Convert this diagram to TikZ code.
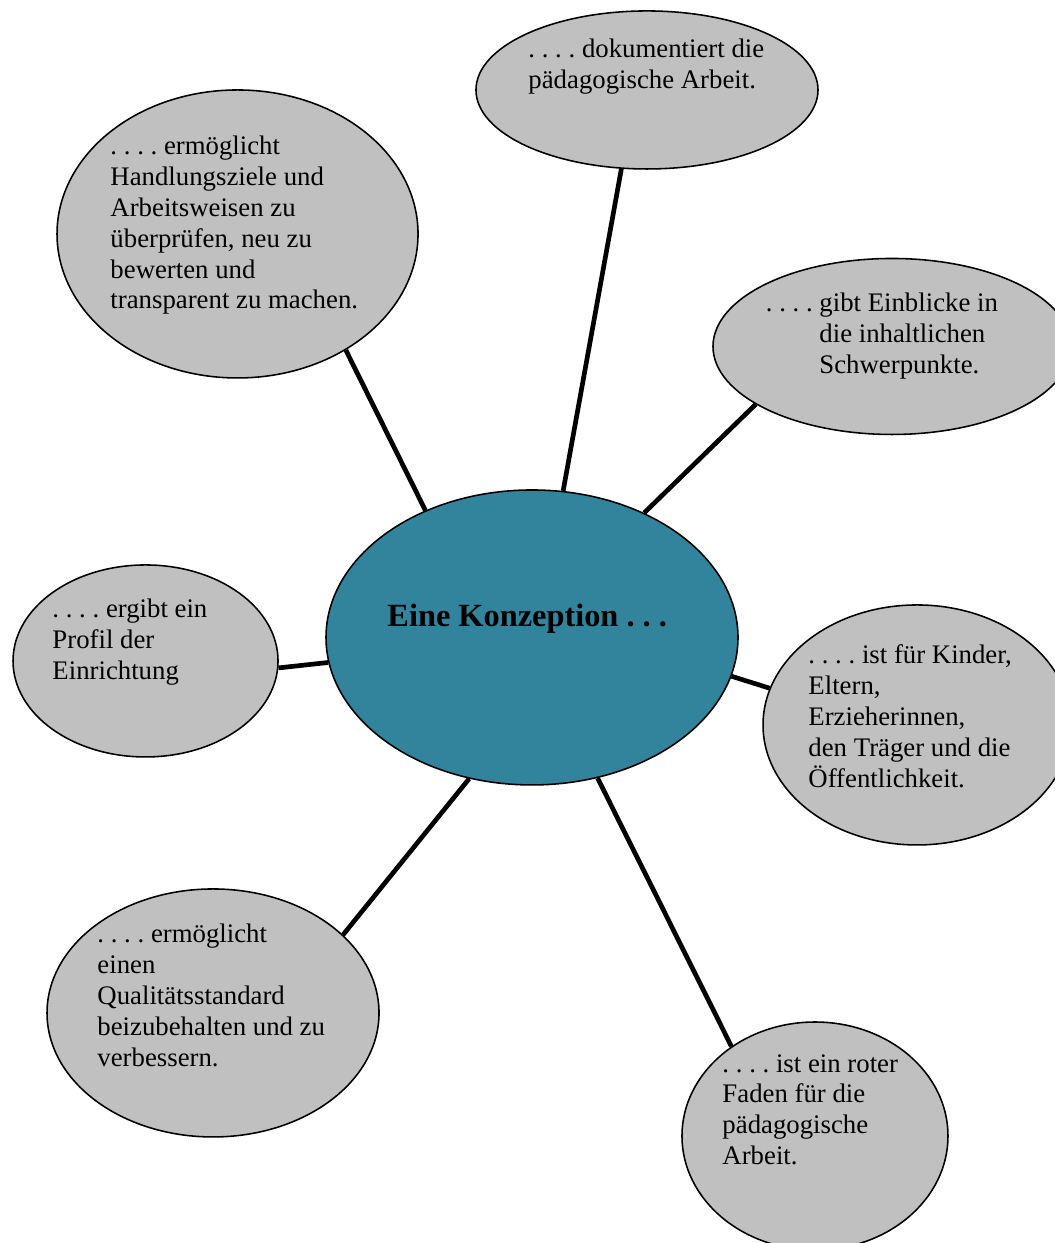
\documentclass[tikz,border=0pt]{standalone}
\usepackage{fontspec}
\setmainfont{Liberation Serif}
\usepackage{tikz}
\usepackage{xcolor}
\usetikzlibrary{shapes.geometric}
\definecolor{bubblegray}{HTML}{C0C0C0}
\definecolor{hubteal}{HTML}{31849B}
\frenchspacing
\tikzset{
  bubble/.style={ellipse,draw=black,fill=bubblegray,line width=0.7pt,
                 inner sep=0pt},
  hub/.style={bubble,fill=hubteal},
  bubbletext/.style={anchor=base west,align=left,inner sep=0pt,
                     font=\fontsize{12}{13.8}\selectfont},
  spoke/.style={line width=2.1pt}
}

\begin{document}
\begin{tikzpicture}
  \clip (0,0) rectangle (16.616,19.577);
  \fill[white] (0,0) rectangle (16.616,19.577);

  % ellipses
  \node[hub,minimum width=6.489cm,minimum height=4.646cm] (konzeption) at (8.379,9.537) {};
  \node[bubble,minimum width=5.387cm,minimum height=2.489cm] (doku) at (10.190,18.160) {};
  \node[bubble,minimum width=5.686cm,minimum height=4.536cm] (pruefen) at (3.741,15.892) {};
  \node[bubble,minimum width=5.639cm,minimum height=2.772cm] (einblick) at (14.049,14.120) {};
  \node[bubble,minimum width=4.174cm,minimum height=3.024cm] (profil) at (2.292,9.167) {};
  \node[bubble,minimum width=4.851cm,minimum height=3.780cm] (zielgruppe) at (14.443,8.159) {};
  \node[bubble,minimum width=5.229cm,minimum height=3.906cm] (qualitaet) at (3.355,3.623) {};
  \node[bubble,minimum width=4.190cm,minimum height=3.591cm] (faden) at (12.836,1.685) {};

  % spokes
  \draw[spoke] (konzeption.78) -- (doku.252);
  \draw[spoke] (konzeption.130) -- (pruefen.313);
  \draw[spoke] (konzeption.48) -- (einblick.203);
  \draw[spoke] (konzeption.187) -- (profil.357);
  \draw[spoke] (konzeption.349) -- (zielgruppe.166);
  \draw[spoke] (konzeption.246) -- (qualitaet.31);
  \draw[spoke] (konzeption.295) -- (faden.133);

  % texts (base = last line)
  \node[anchor=base west,inner sep=0pt,font=\fontsize{14.5}{17}\selectfont\bfseries]
    (konzeption-t) at (6.095,9.702) {Eine Konzeption . . .};
  \node[bubbletext] (doku-t) at (8.316,18.179)
    {. . . . dokumentiert die\\pädagogische Arbeit.};
  \node[bubbletext] (pruefen-t) at (1.733,14.711)
    {. . . . ermöglicht\\Handlungsziele und\\Arbeitsweisen zu\\überprüfen, neu zu\\bewerten und\\transparent zu machen.};
  \node[bubbletext] (einblick-t) at (12.899,13.693)
    {\llap{. . . .\ }gibt Einblicke in\\die inhaltlichen\\Schwerpunkte.};
  \node[bubbletext] (profil-t) at (0.819,8.874)
    {. . . . ergibt ein\\Profil der\\Einrichtung};
  \node[bubbletext] (zielgruppe-t) at (12.726,7.179)
    {. . . . ist für Kinder,\\Eltern,\\Erzieherinnen,\\den Träger und die\\Öffentlichkeit.};
  \node[bubbletext] (qualitaet-t) at (1.528,2.785)
    {. . . . ermöglicht\\einen\\Qualitätsstandard\\beizubehalten und zu\\verbessern.};
  \node[bubbletext] (faden-t) at (11.372,1.238)
    {. . . . ist ein roter\\Faden für die\\pädagogische\\Arbeit.};
\end{tikzpicture}
\end{document}
